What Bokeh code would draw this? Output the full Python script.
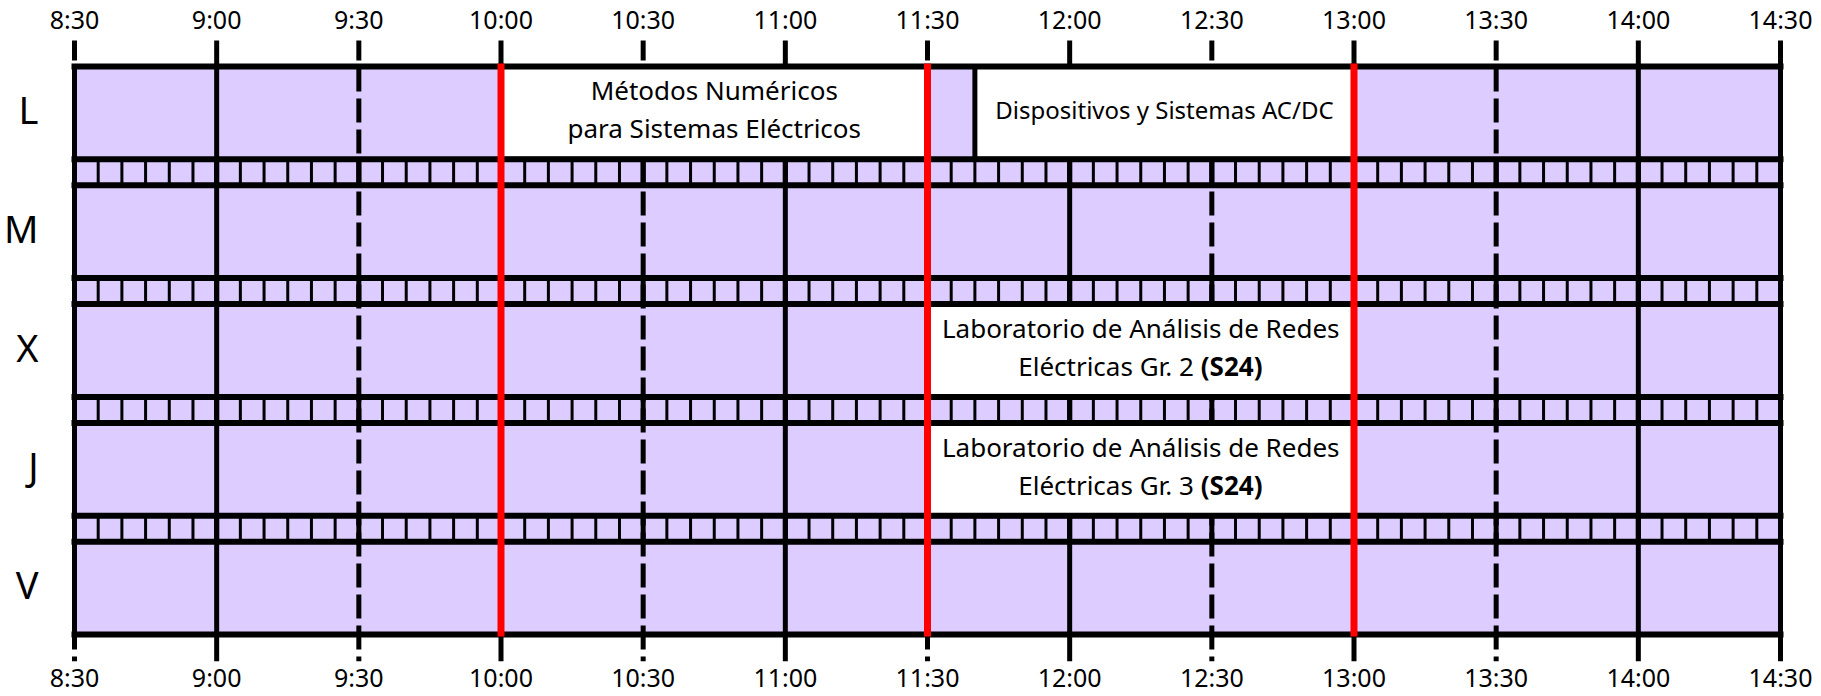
from bokeh.plotting import figure
from bokeh.models import Range1d, ColumnDataSource
from bokeh.core.properties import value
from bokeh.embed import file_html
from bokeh.resources import INLINE

# ---------------- data ----------------
DAYS = ["L", "M", "X", "J", "V"]
TIME_TICKS = ["8:30", "9:00", "9:30", "10:00", "10:30", "11:00", "11:30",
              "12:00", "12:30", "13:00", "13:30", "14:00", "14:30"]
EVENT_DAYS = ["L", "L", "X", "J"]
EVENT_START = ["10:00", "11:40", "11:30", "11:30"]
EVENT_END = ["11:30", "13:00", "13:00", "13:00"]
EVENT_LINE1 = ["Métodos Numéricos", "Dispositivos y Sistemas AC/DC",
               "Laboratorio de Análisis de Redes", "Laboratorio de Análisis de Redes"]
EVENT_LINE2 = ["para Sistemas Eléctricos", "", "Eléctricas Gr. 2", "Eléctricas Gr. 3"]
EVENT_BOLD = ["", "", "(S24)", "(S24)"]
MARKED_TIMES = ["10:00", "11:30", "13:00"]
SLOT_MINUTES = 5


def to_min(s):
    h, m = s.split(":")
    return int(h) * 60 + int(m)


# ---------------- layout (pixels) ----------------
FIG_W, FIG_H = 1821, 696
X0_PX = 74.0
PX_PER_MIN = 1706.0 / 360.0
ROW_PX = 92.8
STRIP_PX = 26.0
DAY_PX = ROW_PX + STRIP_PX
GRID_TOP_PX = 66.0
ROW0_CENTER_PX = GRID_TOP_PX + ROW_PX / 2.0
TEXT_LIFT = 3.0   # "middle" baseline sits slightly low; lift texts a bit

FONT = value("Noto Sans")
LILAC = "#DDCCFF"


def ypx(px):
    return (px - ROW0_CENTER_PX) / DAY_PX


def dy(px):
    return px / DAY_PX


tick_min = [to_min(t) for t in TIME_TICKS]
t0, t1 = tick_min[0], tick_min[-1]

p = figure(width=FIG_W, height=FIG_H, output_backend="svg", toolbar_location=None,
           x_axis_type=None, y_axis_type=None, min_border=0,
           x_range=Range1d(t0 - X0_PX / PX_PER_MIN, t0 + (FIG_W - X0_PX) / PX_PER_MIN),
           y_range=Range1d(ypx(FIG_H), ypx(0)))
p.outline_line_color = None
p.xgrid.visible = False
p.ygrid.visible = False
p.background_fill_color = "white"
p.border_fill_color = "white"

half = ROW_PX / DAY_PX / 2.0
n = len(DAYS)
grid_top = -half
grid_bottom = (n - 1) + half

# lilac background over the whole grid
p.quad(left=[t0], right=[t1], top=[grid_top], bottom=[grid_bottom],
       fill_color=LILAC, line_color=None)

# vertical hour / half-hour lines (with their ticks)
tick_top = ypx(40.0)
tick_bot = ypx(660.7)
is_solid = [s.endswith(":00") or i == len(TIME_TICKS) - 1 for i, s in enumerate(TIME_TICKS)]
solid_x = [m for m, f in zip(tick_min, is_solid) if f]
dash_x = [m for m, f in zip(tick_min, is_solid) if not f]
p.segment(x0=solid_x, y0=[tick_top] * len(solid_x), x1=solid_x, y1=[tick_bot] * len(solid_x),
          line_color="black", line_width=5)
p.segment(x0=dash_x, y0=[tick_top] * len(dash_x), x1=dash_x, y1=[tick_bot] * len(dash_x),
          line_color="black", line_width=5, line_dash="24 7", line_dash_offset=4)

# strips between days: 5-minute slot separators
sx, sy0, sy1, sw = [], [], [], []
for k in range(n - 1):
    ya = k + half
    yb = k + 1 - half
    m = t0 + SLOT_MINUTES
    while m < t1:
        sx.append(m)
        sy0.append(ya)
        sy1.append(yb)
        sw.append(5 if (m - t0) % 30 == 0 else 3)
        m += SLOT_MINUTES
strip_src = ColumnDataSource(dict(x=sx, y0=sy0, y1=sy1, w=sw))
p.segment(x0="x", y0="y0", x1="x", y1="y1", line_width="w", line_color="black",
          source=strip_src)

# event boxes
ev_idx = [DAYS.index(d) for d in EVENT_DAYS]
ev_s = [to_min(s) for s in EVENT_START]
ev_e = [to_min(s) for s in EVENT_END]
p.quad(left=ev_s, right=ev_e, top=[i - half for i in ev_idx], bottom=[i + half for i in ev_idx],
       fill_color="white", line_color="black", line_width=5)

# horizontal borders of every day row
hy = []
for i in range(n):
    hy += [i - half, i + half]
p.segment(x0=[t0] * len(hy), y0=hy, x1=[t1] * len(hy), y1=hy,
          line_color="black", line_width=6, line_cap="square")

# outer left / right borders
p.segment(x0=[t0, t1], y0=[grid_top] * 2, x1=[t0, t1], y1=[grid_bottom] * 2,
          line_color="black", line_width=5, line_cap="square")

# red marker lines
rx = [to_min(s) for s in MARKED_TIMES]
p.segment(x0=rx, y0=[grid_top - dy(3)] * len(rx), x1=rx, y1=[grid_bottom + dy(2)] * len(rx),
          line_color="#FF0000", line_width=7)

# time labels (top and bottom)
p.text(x=tick_min, y=[ypx(21.5 - TEXT_LIFT)] * len(tick_min), text=TIME_TICKS,
       text_align="center", text_baseline="middle",
       text_font=FONT, text_font_size="25px", text_color="black")
p.text(x=tick_min, y=[ypx(679.5 - TEXT_LIFT)] * len(tick_min), text=TIME_TICKS,
       text_align="center", text_baseline="middle",
       text_font=FONT, text_font_size="25px", text_color="black")

# day labels
p.text(x=[t0] * n, y=[i - dy(TEXT_LIFT + 1) for i in range(n)], text=DAYS, x_offset=-36,
       text_align="right", text_baseline="middle",
       text_font=FONT, text_font_size="38px", text_color="black")

# event texts
cx = [(a + b) / 2.0 for a, b in zip(ev_s, ev_e)]
one_x, one_y, one_t = [], [], []
l1_x, l1_y, l1_t = [], [], []
l2_x, l2_y, l2_t = [], [], []
b2_x, b2_y, b2_t, n2_x, n2_y, n2_t = [], [], [], [], [], []
for c, i, a, b, bold in zip(cx, ev_idx, EVENT_LINE1, EVENT_LINE2, EVENT_BOLD):
    if not b:
        one_x.append(c); one_y.append(i - dy(TEXT_LIFT)); one_t.append(a)
        continue
    l1_x.append(c); l1_y.append(i - dy(19.5 + TEXT_LIFT)); l1_t.append(a)
    if bold:
        n2_x.append(c); n2_y.append(i + dy(18.5 - TEXT_LIFT)); n2_t.append(b)
        b2_x.append(c); b2_y.append(i + dy(18.5 - TEXT_LIFT)); b2_t.append(bold)
    else:
        l2_x.append(c); l2_y.append(i + dy(18.5 - TEXT_LIFT)); l2_t.append(b)

p.text(x=one_x, y=one_y, text=one_t, text_align="center", text_baseline="middle",
       text_font=FONT, text_font_size="24px", text_color="black")
p.text(x=l1_x, y=l1_y, text=l1_t, text_align="center", text_baseline="middle",
       text_font=FONT, text_font_size="26px", text_color="black")
p.text(x=l2_x, y=l2_y, text=l2_t, text_align="center", text_baseline="middle",
       text_font=FONT, text_font_size="26px", text_color="black")
p.text(x=n2_x, y=n2_y, text=n2_t, x_offset=53, text_align="right", text_baseline="middle",
       text_font=FONT, text_font_size="26px", text_color="black")
p.text(x=b2_x, y=b2_y, text=b2_t, x_offset=60, text_align="left", text_baseline="middle",
       text_font=FONT, text_font_size="26px", text_font_style="bold", text_color="black")

open("out.html", "w").write(file_html(p, INLINE))
